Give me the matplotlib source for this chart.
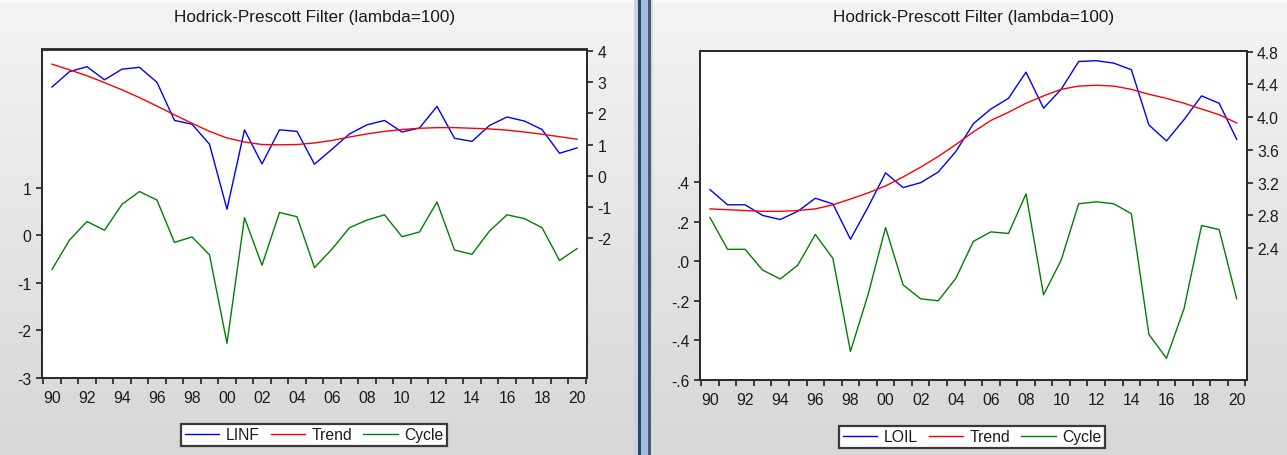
import numpy as np
import matplotlib
matplotlib.use("Agg")
import matplotlib.pyplot as plt
from matplotlib.lines import Line2D
from matplotlib.ticker import FixedLocator, FixedFormatter

# ---------------- data ----------------
years = list(range(1990, 2021))

linf = [2.84, 3.33, 3.49, 3.07, 3.41, 3.47, 2.99, 1.77, 1.65, 1.01, -1.07,
        1.47, 0.38, 1.47, 1.42, 0.37, 0.85, 1.34, 1.63, 1.77, 1.40,
        1.53, 2.22, 1.20, 1.10, 1.61, 1.88, 1.75, 1.48, 0.72, 0.89]
linf_trend = [3.57, 3.39, 3.20, 2.98, 2.75, 2.50, 2.23, 1.95, 1.68, 1.42, 1.21,
              1.08, 1.00, 0.99, 1.00, 1.05, 1.13, 1.24, 1.34, 1.42, 1.48,
              1.52, 1.54, 1.54, 1.52, 1.50, 1.46, 1.40, 1.33, 1.25, 1.17]
linf_cycle = [-0.72, -0.10, 0.29, 0.105, 0.65, 0.92, 0.74, -0.15, -0.035, -0.41, -2.27,
              0.37, -0.63, 0.48, 0.39, -0.68, -0.29, 0.16, 0.32, 0.43, -0.03,
              0.07, 0.70, -0.31, -0.40, 0.09, 0.43, 0.35, 0.16, -0.53, -0.28]

loil = [3.115, 2.93, 2.93, 2.80, 2.75, 2.85, 3.01, 2.94, 2.51, 2.90, 3.32,
        3.14, 3.20, 3.33, 3.58, 3.92, 4.10, 4.23, 4.55, 4.11, 4.34,
        4.68, 4.69, 4.66, 4.58, 3.905, 3.71, 3.97, 4.26, 4.17, 3.73]
loil_trend = [2.88, 2.87, 2.86, 2.85, 2.85, 2.86, 2.88, 2.93, 3.00, 3.075, 3.16,
              3.27, 3.39, 3.52, 3.665, 3.82, 3.96, 4.06, 4.17, 4.26, 4.34,
              4.38, 4.39, 4.38, 4.34, 4.28, 4.23, 4.17, 4.10, 4.03, 3.93]
loil_cycle = [0.22, 0.06, 0.06, -0.045, -0.09, -0.02, 0.135, 0.014, -0.456, -0.17, 0.17,
              -0.12, -0.19, -0.20, -0.087, 0.10, 0.148, 0.14, 0.34, -0.17, 0.005,
              0.29, 0.30, 0.29, 0.24, -0.37, -0.49, -0.24, 0.18, 0.16, -0.19]

title_text = "Hodrick-Prescott Filter (lambda=100)"
year_labels = ["90", "92", "94", "96", "98", "00", "02", "04", "06", "08",
               "10", "12", "14", "16", "18", "20"]

linf_left_ticks = [1, 0, -1, -2, -3]
linf_left_labels = ["1", "0", "-1", "-2", "-3"]
linf_right_ticks = [4, 3, 2, 1, 0, -1, -2]
linf_right_labels = ["4", "3", "2", "1", "0", "-1", "-2"]

loil_left_ticks = [0.4, 0.2, 0.0, -0.2, -0.4, -0.6]
loil_left_labels = [".4", ".2", ".0", "-.2", "-.4", "-.6"]
loil_right_ticks = [4.8, 4.4, 4.0, 3.6, 3.2, 2.8, 2.4]
loil_right_labels = ["4.8", "4.4", "4.0", "3.6", "3.2", "2.8", "2.4"]

# ---------------- style ----------------
plt.rcParams["font.family"] = ["Liberation Sans", "DejaVu Sans"]
FS_TITLE = 12.3
FS_TICK = 11.3
FS_LEG = 11.3
TXT = "#1a1a1a"
C_SERIES = "#0000ff"
C_TREND = "#ff0000"
C_CYCLE = "#008000"
LW = 1.0

W, H = 1287, 456
fig = plt.figure(figsize=(W / 100, H / 100), dpi=100)

# window background: soft vertical gradient with a splitter bar in the middle
shade = np.linspace(244, 215, H)
bg = np.repeat(shade[:, None], W, axis=1)
bg = np.stack([bg, bg, bg], axis=-1)
bg[:4, :, :] = 250
split = [
    (634, 638, (196, 212, 234)),
    (638, 641, (45, 72, 84)),
    (641, 648, (160, 190, 228)),
    (648, 651, (82, 88, 98)),
    (651, 653, (205, 218, 236)),
]
for x0, x1, col in split:
    bg[:, x0:x1, :] = col
fig.figimage(bg.astype(np.uint8), xo=0, yo=0, origin="upper", zorder=-10)


def px_rect(x0, y0, x1, y1):
    return [x0 / W, 1 - y1 / H, (x1 - x0) / W, (y1 - y0) / H]


def build_panel(rect, series, trend, cycle,
                ylim_l, ylim_r, lt, ll, rt, rl, title_x):
    ax = fig.add_axes(px_rect(*rect))
    ax.set_facecolor("white")
    ax2 = ax.twinx()

    ax.plot(years, cycle, color=C_CYCLE, lw=LW, zorder=3)
    ax2.plot(years, series, color=C_SERIES, lw=LW, zorder=3)
    ax2.plot(years, trend, color=C_TREND, lw=LW, zorder=4)

    ax.set_xlim(1989.43, 2020.57)
    ax.set_ylim(*ylim_l)
    ax2.set_ylim(*ylim_r)

    # year labels centred on observations, tick marks between years
    ax.xaxis.set_major_locator(FixedLocator(list(range(1990, 2021, 2))))
    ax.xaxis.set_major_formatter(FixedFormatter(year_labels))
    ax.xaxis.set_minor_locator(FixedLocator([y + 0.5 for y in range(1989, 2021)]))
    ax.tick_params(axis="x", which="major", length=0, pad=9.0,
                   labelsize=FS_TICK, labelcolor=TXT)
    ax.tick_params(axis="x", which="minor", length=4.5, width=1.2,
                   direction="out", color="#222222")

    ax.yaxis.set_major_locator(FixedLocator(lt))
    ax.yaxis.set_major_formatter(FixedFormatter(ll))
    ax.tick_params(axis="y", length=4, width=1.2, pad=3.5, color="#222222",
                   labelsize=FS_TICK, labelcolor=TXT)
    ax2.yaxis.set_major_locator(FixedLocator(rt))
    ax2.yaxis.set_major_formatter(FixedFormatter(rl))
    ax2.tick_params(axis="y", length=4, width=1.2, pad=3.5, color="#222222",
                    labelsize=FS_TICK, labelcolor=TXT)

    for a in (ax, ax2):
        for sp in a.spines.values():
            sp.set_color("#2a2a2a")
            sp.set_linewidth(1.3)
    ax2.patch.set_visible(False)

    fig.text(title_x / W, 1 - 17.5 / H, title_text, ha="center", va="center",
             fontsize=FS_TITLE, color=TXT)

    handles = [Line2D([], [], color=C_SERIES, lw=LW),
               Line2D([], [], color=C_TREND, lw=LW),
               Line2D([], [], color=C_CYCLE, lw=LW)]
    return handles


h1 = build_panel((42, 50.5, 587, 379), linf, linf_trend, linf_cycle,
                 (-3.0, 3.905), (-6.47, 4.04),
                 linf_left_ticks, linf_left_labels,
                 linf_right_ticks, linf_right_labels, 314.5)
h2 = build_panel((700, 51.7, 1246.7, 381), loil, loil_trend, loil_cycle,
                 (-0.6, 1.063), (0.79, 4.812),
                 loil_left_ticks, loil_left_labels,
                 loil_right_ticks, loil_right_labels, 973.7)


def add_legend(handles, labels, cx, cy):
    leg = fig.legend(handles, labels, loc="center",
                     bbox_to_anchor=(cx / W, 1 - cy / H), ncol=3,
                     frameon=True, fancybox=False, shadow=False,
                     framealpha=1, edgecolor="#3a3a3a", facecolor="white",
                     fontsize=FS_LEG, handlelength=2.2, handletextpad=0.4,
                     columnspacing=0.7, borderpad=0.25, borderaxespad=0)
    leg.get_frame().set_linewidth(1.6)
    for t in leg.get_texts():
        t.set_color(TXT)
    return leg


add_legend(h1, ["LINF", "Trend", "Cycle"], 314, 436)
add_legend(h2, ["LOIL", "Trend", "Cycle"], 972, 438)

fig.savefig("out.png", dpi=100)
